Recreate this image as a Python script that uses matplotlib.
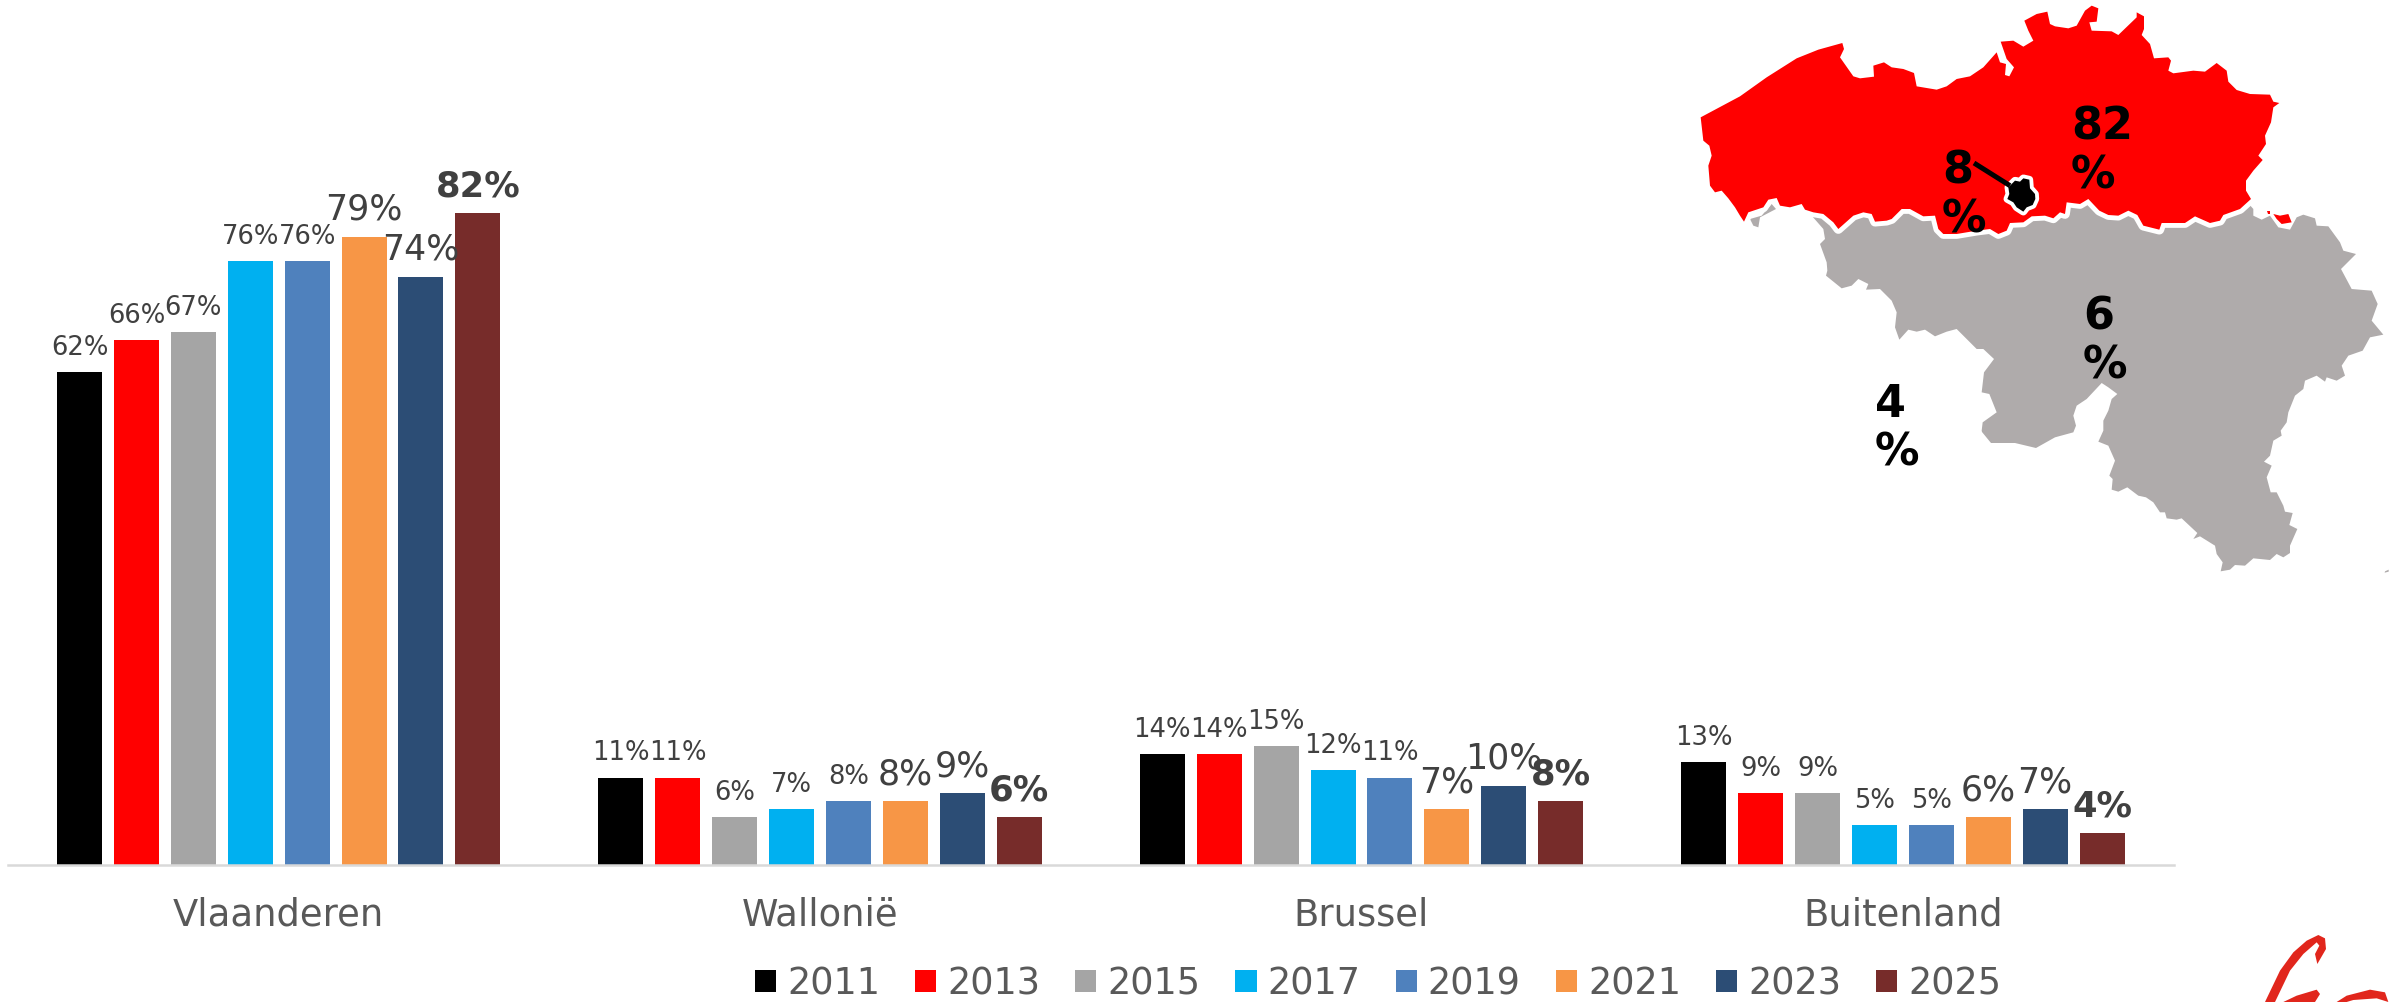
import matplotlib
matplotlib.use("Agg")
import matplotlib.pyplot as plt

W, H = 2391, 1003
plt.rcParams['font.family'] = ['DejaVu Sans']

categories = ["Vlaanderen", "Wallonië", "Brussel", "Buitenland"]
years = ["2011", "2013", "2015", "2017", "2019", "2021", "2023", "2025"]
v2011 = [62, 11, 14, 13]
v2013 = [66, 11, 14, 9]
v2015 = [67, 6, 15, 9]
v2017 = [76, 7, 12, 5]
v2019 = [76, 8, 11, 5]
v2021 = [79, 8, 7, 6]
v2023 = [74, 9, 10, 7]
v2025 = [82, 6, 8, 4]
series = [v2011, v2013, v2015, v2017, v2019, v2021, v2023, v2025]
colors = ["#000000", "#FF0000", "#A5A5A5", "#00B0F0", "#4F81BD", "#F79646", "#2C4D75", "#772C2A"]
label_sizes = [18.6, 18.6, 18.6, 18.6, 18.6, 25, 25, 25.5]
label_weights = ["normal"] * 7 + ["bold"]

map_labels = ["82\n%", "8\n%", "6\n%", "4\n%"]


def z(points, x0=0.0, y0=0.0, sx=3.0, sy=3.0):
    return [(x0 + p[0] / sx, y0 + p[1] / sy) for p in points]


# Map outlines
red_north = z([(32,355),(150,292),(230,235),(320,178),(385,152),(457,132),(462,150),(450,175),(490,232),(510,238),
               (552,233),(550,200),(582,190),(605,205),(640,210),(672,222),(680,262),(740,272),(770,262),(800,240),
               (840,232),(880,205),(920,160),(930,190),(948,195),(945,228),(958,232),(972,205),(950,180),(932,128),
               (970,125),(1000,143),(1030,125),(1015,95),(1003,65)], 1690, 0) + \
            z([(50,45),(82,38),(90,75),(105,82),(145,88),(170,80),(195,35),(215,20),(235,28),(230,68),(208,70),
               (215,95),(275,97),(295,108),(350,55),(350,40),(372,52),(372,90),(365,108),(390,135),(402,178),
               (445,175),(453,185),(445,215),(460,223),(520,215),(555,218),(590,192),(620,215),(625,248),(650,273),
               (690,285),(750,287),(760,308),(778,312),(760,325),(753,370),(735,410),(738,435),(715,470),(728,483),
               (700,515),(678,545),(678,575),(693,600)], 2020, 0)
red_south = z([(693,600),(660,630),(610,648),(600,665),(570,672),(525,652),(495,672),(470,672),(425,672),(418,692),
               (370,680),(352,648),(325,635),(295,650),(265,648),(238,635),(205,600),(180,615),(140,610),(135,645),
               (120,640),(100,658),(75,650),(35,652)], 2020, 0) + \
            z([(1000,670),(960,672),(950,695),(925,705),(900,690),(860,695),(800,705),(760,705),(745,690),(735,650),
               (700,652),(660,630),(635,630),(605,660),(590,665),(555,668),(545,645),(520,640),(490,650),(445,690),
               (430,670),(400,645),(370,640),(345,632),(335,615),(300,625),(270,620),(260,597),(235,602),(220,625),
               (175,640),(162,668),(150,650),(135,625),(115,598),(95,575),(75,580),(60,560),(55,500),(65,470),
               (58,440),(40,425)], 1690, 0)
voeren = z([(700,45),(720,50),(745,45),(755,70),(725,75),(710,60)], 2040, 200)
voeren_dot = z([(682,36),(690,36),(690,46),(684,46)], 2040, 200)
komen = z([(180,660),(215,650),(245,615),(258,630),(210,655),(205,685),(190,680)], 1690, 0)
brussels = z([(955,565),(975,545),(990,548),(1000,538),(1018,542),(1020,568),(1035,585),(1036,600),(1028,618),
              (1010,625),(1000,638),(980,625),(970,610),(952,600),(958,585)], 1690, 0)
pointer = z([(852,492),(960,560)], 1690, 0)

gray_outline = [(1830, 195), (2240, 195)] + \
    z([(640,30),(640,50),(665,62),(690,50),(715,85),(750,92),(770,55),(790,47),(825,58),(830,80),(865,82),(900,130),
       (910,155),(948,165),(903,210),(935,270),(995,275),(1013,315),(995,365),(1030,407),(990,415),(968,455),
       (925,470),(905,500),(915,530),(890,545),(860,535),(855,548),(830,530),(795,545),(790,570),(765,590),
       (745,640),(740,670),(722,695)], 2040, 200) + \
    z([(725,110),(700,125),(690,170),(672,188),(695,200),(680,235),(692,280),(710,280),(730,320),(735,338),(758,342),
       (748,378),(772,390),(750,440),(750,462),(730,475),(710,465),(690,483),(640,478),(615,500),(585,498),(570,512),
       (542,517),(548,490),(530,465),(525,440),(480,412),(460,420),(472,402),(425,358),(410,362),(380,358),(375,340),
       (360,340),(340,310),(318,295),(295,290),(262,265),(235,278),(215,272),(218,240),(208,230),(225,185),(205,140),
       (175,128),(190,95),(190,65),(205,35)], 2040, 400) + \
    z([(215,600),(232,585),(205,565),(185,552),(140,600),(110,620),(100,650),(108,680),(100,700),(45,715)], 2040, 200) + \
    [(2036, 449), (2015, 444), (1991, 444), (1982, 433)] + \
    z([(605,695),(608,670),(650,640),(628,585),(605,580),(612,520),(642,480),(610,450),(590,450),(530,390),(500,398),
       (465,412),(435,392),(410,398),(385,392),(358,422),(345,385),(350,340),(335,305),(300,270),(258,272),(265,255),
       (235,240),(215,260),(185,268),(138,230),(142,215),(140,190),(120,135),(135,120),(130,90),(95,50)], 1780, 200)
logo_a = z([(195,309),(240,215),(280,160),(320,125),(355,108),(375,118),(378,150),(352,195),(345,165),(358,140),
            (350,130),(310,165),(270,215),(225,309)], 2200, 900)
logo_b = z([(250,309),(290,290),(350,272),(360,285),(345,309)], 2200, 900)
logo_c = z([(410,309),(440,290),(510,272),(555,280),(565,309),(530,298),(460,303),(440,309)], 2200, 900)

fig = plt.figure(figsize=(W / 100, H / 100), dpi=100, facecolor="white")

# Chart axes: baseline at y=866 px, 7.95 px per percent
ax_left, ax_right, base_y = 8.0, 2173.6, 866
ax = fig.add_axes([ax_left / W, (H - base_y) / H, (ax_right - ax_left) / W, base_y / H])
ax.set_xlim(-0.5, 3.5)
ax.set_ylim(0, base_y / 7.95)
bar_w = 45 / 541.4
pitch = 56.9 / 541.4
for i, (vals, col, yr) in enumerate(zip(series, colors, years)):
    xs = [c + (i - 3.5) * pitch for c in range(len(categories))]
    bars = ax.bar(xs, vals, width=bar_w, color=col, label=yr, linewidth=0)
    for rect, v in zip(bars, vals):
        ax.annotate(f"{v}%", (rect.get_x() + rect.get_width() / 2, v), xytext=(0, 13), textcoords="offset points",
                    ha="center", va="baseline", fontsize=label_sizes[i], fontweight=label_weights[i],
                    color="#404040", annotation_clip=False)
ax.set_xticks(range(len(categories)))
ax.set_xticklabels(categories, fontsize=26.6, color="#595959")
ax.tick_params(axis="x", length=0, pad=22)
ax.set_yticks([])
for s in ("top", "left", "right"):
    ax.spines[s].set_visible(False)
ax.spines["bottom"].set_color("#D9D9D9")
ax.spines["bottom"].set_linewidth(1.8)
ax.patch.set_alpha(0)
leg = ax.legend(loc="lower left", bbox_to_anchor=(755 / W, 0 / H), bbox_transform=fig.transFigure, ncol=8,
                frameon=False, fontsize=26.4, labelcolor="#595959", handlelength=0.58, handleheight=0.58,
                handletextpad=0.3, columnspacing=0.95, borderpad=0, borderaxespad=0)

# Map overlay in image pixels
m = fig.add_axes([0, 0, 1, 1], facecolor="none")
m.set_xlim(0, W)
m.set_ylim(H, 0)
m.axis("off")


def fill(pts, color, zorder, **kw):
    m.fill([p[0] for p in pts], [p[1] for p in pts], color=color, linewidth=0, zorder=zorder, **kw)


GRAY = "#AFABAB"
fill(gray_outline, GRAY, 1)
fill(komen, GRAY, 1)
fill(z([(1035,517),(1046,512),(1046,518),(1034,521)], 2040, 400), GRAY, 1)
m.plot([p[0] for p in red_south], [p[1] for p in red_south], color="white", lw=7, zorder=2, solid_joinstyle="round")
fill(red_north + red_south, "#FF0000", 3)
fill(voeren, "#FF0000", 3)
fill(voeren_dot, "#FF0000", 3)
m.fill([p[0] for p in brussels], [p[1] for p in brussels], facecolor="#000000", edgecolor="white", linewidth=5.5,
       zorder=4, joinstyle="round")
fill(brussels, "#000000", 5)
m.plot([p[0] for p in pointer], [p[1] for p in pointer], color="black", lw=3.6, zorder=6, solid_capstyle="butt")

map_x = [2071, 1942, 2083, 1875]
map_y = [188, 232, 378, 466]
for t, x, y in zip(map_labels, map_x, map_y):
    m.text(x, y, t, fontsize=32, fontweight="bold", color="black", ha="left", va="baseline", linespacing=1.17,
           zorder=7)

LOGO = "#E1261C"
fill(logo_a, LOGO, 1)
fill(logo_b, LOGO, 1)
fill(logo_c, LOGO, 1)

fig.savefig("out.png", dpi=100, facecolor="white")
